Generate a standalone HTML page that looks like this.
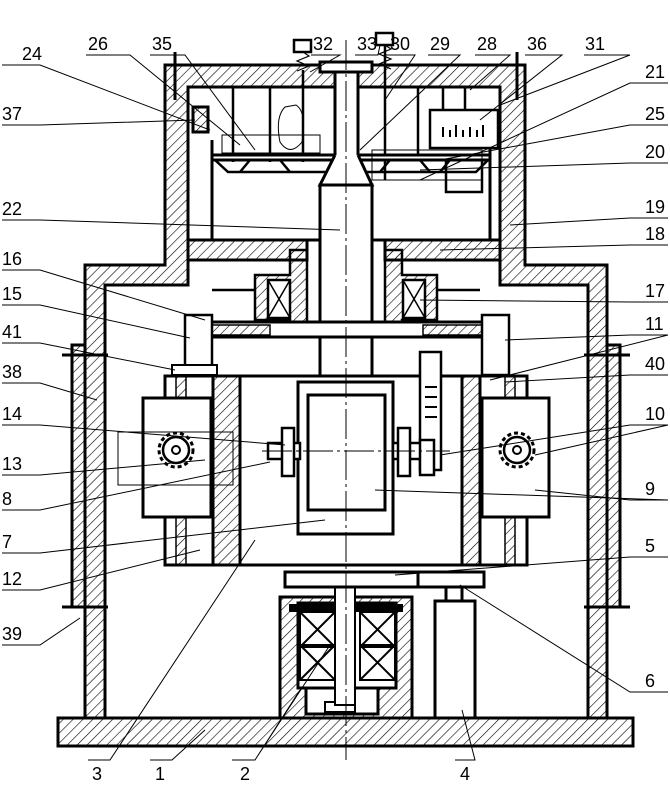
<!DOCTYPE html>
<html><head><meta charset="utf-8"><style>
html,body{margin:0;padding:0;background:#fff;}
svg{display:block;}
text{font-family:"Liberation Sans",sans-serif;font-size:18px;fill:#000;}
</style></head><body>
<svg width="670" height="787" viewBox="0 0 670 787" xmlns="http://www.w3.org/2000/svg">
<defs>
<pattern id="h" width="7" height="7" patternUnits="userSpaceOnUse" patternTransform="rotate(45)">
<line x1="0" y1="0" x2="0" y2="7" stroke="#000" stroke-width="1.2"/>
</pattern>
</defs>
<g stroke="#000" stroke-width="3" fill="none">
<rect x="58" y="718" width="575" height="28" fill="url(#h)"/>
<path d="M280,718 V597 H412 V718" fill="url(#h)"/>
<rect x="298" y="603" width="98" height="85" fill="#fff"/>
<rect x="306" y="688" width="72" height="26" fill="#fff"/>
<g stroke-width="2">
<rect x="300" y="612" width="35" height="35"/><path d="M300,612 L335,647 M335,612 L300,647"/>
<rect x="360" y="612" width="35" height="35"/><path d="M360,612 L395,647 M395,612 L360,647"/>
<rect x="300" y="645" width="35" height="35"/><path d="M300,680 L335,645 M335,680 L300,645"/>
<rect x="360" y="645" width="35" height="35"/><path d="M360,680 L395,645 M395,680 L360,645"/>
<rect x="290" y="605" width="112" height="6" fill="#000"/>
<rect x="325" y="702" width="30" height="10" fill="#fff"/>
</g>
<rect x="335" y="587" width="20" height="118" fill="#fff" stroke-width="2"/>
<rect x="285" y="572" width="199" height="15" fill="#fff"/>
<line x1="418" y1="572" x2="418" y2="587"/>
<rect x="435" y="601" width="40" height="117" fill="#fff"/>
<rect x="446" y="587" width="16" height="14" fill="#fff"/>
<path d="M85,718 V265 H165 V65 H525 V265 H607 V718 H588 V285 H500 V87 H188 V285 H105 V718 Z" fill="url(#h)"/>
<rect x="72" y="345" width="13" height="262" fill="url(#h)"/>
<rect x="607" y="345" width="13" height="262" fill="url(#h)"/>
<line x1="62" y1="355" x2="108" y2="355"/><line x1="62" y1="607" x2="108" y2="607"/>
<line x1="584" y1="355" x2="630" y2="355"/><line x1="584" y1="607" x2="630" y2="607"/>
<path d="M212,140 V240 H320 M372,240 H490 V140" />
<rect x="188" y="240" width="119" height="20" fill="url(#h)"/>
<rect x="385" y="240" width="115" height="20" fill="url(#h)"/>
<rect x="193" y="107" width="15" height="25" fill="url(#h)"/>
<line x1="175" y1="52" x2="175" y2="100"/><line x1="517" y1="52" x2="517" y2="100"/>
<g stroke-width="2.5">
<line x1="233" y1="87" x2="233" y2="162"/><line x1="270" y1="87" x2="270" y2="162"/>
<line x1="303" y1="70" x2="303" y2="162"/><line x1="385" y1="45" x2="385" y2="180"/>
<line x1="418" y1="87" x2="418" y2="160"/><line x1="443" y1="87" x2="443" y2="110"/><line x1="465" y1="87" x2="465" y2="110"/>
</g>
<rect x="294" y="40" width="17" height="12" stroke-width="2.5"/>
<rect x="376" y="33" width="17" height="12" stroke-width="2.5"/>
<path d="M303,52 l6,4 -12,5 12,5 -12,5" stroke-width="1.2"/>
<path d="M385,45 l6,4 -12,5 12,5 -12,5 12,5" stroke-width="1.2"/>
<path d="M212,155 H490 V160 H212 Z" fill="#fff"/>
<path d="M215,160 L228,172 H476 L488,160" stroke-width="2.5"/>
<path d="M250,160 l-10,12 M280,160 l10,12 M390,160 l-10,12 M420,160 l10,12 M450,160 l-10,12" stroke-width="2.5"/>
<rect x="430" y="110" width="68" height="38" stroke-width="2.5" fill="#fff"/>
<path d="M443,137 v-10 M450,137 v-7 M456,137 v-12 M463,137 v-7 M470,137 v-10 M477,137 v-7 M483,137 v-12" stroke-width="2"/>
<rect x="446" y="160" width="36" height="32" stroke-width="2.5"/>
<rect x="222" y="135" width="98" height="18" stroke-width="1"/>
<rect x="372" y="150" width="110" height="30" stroke-width="1"/>
<path d="M285,107 q-10,10 -5,35 q10,15 22,0 q5,-30 -6,-37 z" stroke-width="1"/>
<rect x="335" y="72" width="23" height="85" fill="#fff"/>
<rect x="320" y="62" width="52" height="10" fill="#fff"/>
<path d="M335,155 L320,185 H372 L358,155" fill="#fff"/>
<rect x="320" y="185" width="52" height="190" fill="#fff"/>
<path d="M212,290 H255 V275 H290 V250 H307 V335 H290 V320 H255 V290" fill="url(#h)" stroke-width="2.5"/>
<path d="M480,290 H437 V275 H402 V250 H385 V335 H402 V320 H437 V290" fill="url(#h)" stroke-width="2.5"/>
<rect x="268" y="280" width="22" height="38" fill="#fff" stroke-width="2.5"/><path d="M268,280 L290,318 M290,280 L268,318" stroke-width="1.5"/>
<rect x="403" y="280" width="22" height="38" fill="#fff" stroke-width="2.5"/><path d="M403,280 L425,318 M425,280 L403,318" stroke-width="1.5"/>
<rect x="191" y="322" width="309" height="15" fill="#fff"/>
<rect x="194" y="325" width="76" height="10" fill="url(#h)" stroke-width="1.5"/>
<rect x="423" y="325" width="74" height="10" fill="url(#h)" stroke-width="1.5"/>
<rect x="185" y="315" width="27" height="60" fill="#fff" stroke-width="2.5"/>
<rect x="482" y="315" width="27" height="60" fill="#fff" stroke-width="2.5"/>
<rect x="172" y="365" width="45" height="10" fill="#fff" stroke-width="2"/>
<rect x="165" y="376" width="362" height="189" fill="#fff"/>
<rect x="320" y="337" width="52" height="39" fill="#fff"/>
<rect x="213" y="376" width="27" height="189" fill="url(#h)"/>
<rect x="462" y="376" width="18" height="189" fill="url(#h)"/>
<rect x="176" y="376" width="10" height="189" fill="url(#h)" stroke-width="1.5"/>
<rect x="505" y="376" width="10" height="189" fill="url(#h)" stroke-width="1.5"/>
<rect x="143" y="398" width="68" height="119" fill="#fff"/>
<rect x="482" y="398" width="67" height="119" fill="#fff"/>
<rect x="118" y="432" width="115" height="53" stroke-width="1"/>
<circle cx="176" cy="450" r="17" stroke-width="3" stroke-dasharray="4 3"/>
<circle cx="176" cy="450" r="13" fill="#fff" stroke-width="2.5"/>
<circle cx="176" cy="450" r="4" stroke-width="2"/>
<circle cx="517" cy="450" r="17" stroke-width="3" stroke-dasharray="4 3"/>
<circle cx="517" cy="450" r="13" fill="#fff" stroke-width="2.5"/>
<circle cx="517" cy="450" r="4" stroke-width="2"/>
<rect x="420" y="352" width="21" height="118" fill="#fff" stroke-width="2.5"/>
<path d="M425,387 h12 M425,397 h12 M425,407 h12 M425,417 h12" stroke-width="2"/>
<rect x="298" y="382" width="95" height="152" fill="#fff"/>
<rect x="308" y="395" width="77" height="115"/>
<rect x="268" y="443" width="32" height="16" fill="#fff" stroke-width="2.5"/>
<rect x="282" y="428" width="12" height="48" fill="#fff" stroke-width="2.5"/>
<rect x="393" y="443" width="40" height="16" fill="#fff" stroke-width="2.5"/>
<rect x="398" y="428" width="12" height="48" fill="#fff" stroke-width="2.5"/>
<rect x="420" y="440" width="14" height="35" fill="#fff" stroke-width="2.5"/>
</g>
<line x1="346" y1="40" x2="346" y2="760" stroke="#000" stroke-width="1" stroke-dasharray="30 4 3 4"/>
<line x1="262" y1="451" x2="450" y2="451" stroke="#000" stroke-width="1" stroke-dasharray="30 4 3 4"/>
<g stroke="#000" stroke-width="1" fill="none">
<path d="M2,65 H40 L210,130"/><path d="M86,55 H130 L240,145"/><path d="M150,55 H185 L255,150"/>
<path d="M311,55 H340 L310,72"/><path d="M355,55 H378 L380,45"/><path d="M386,55 H415 L385,100"/>
<path d="M428,55 H460 L360,150"/><path d="M475,55 H510 L470,90"/><path d="M525,55 H562 L480,120"/>
<path d="M584,55 H630 L500,105"/>
<path d="M668,83 H630 L420,180"/><path d="M668,125 H630 L440,160"/><path d="M668,163 H630 L420,170"/>
<path d="M668,218 H630 L510,225"/><path d="M668,245 H630 L440,250"/><path d="M668,302 H630 L420,300"/>
<path d="M668,335 H630 L505,340"/><path d="M668,335 L490,380"/><path d="M668,375 H630 L505,382"/>
<path d="M668,425 H630 L440,455"/><path d="M668,425 L535,455"/>
<path d="M668,500 H630 L535,490"/><path d="M668,500 L375,490"/>
<path d="M668,557 H630 L395,575"/><path d="M668,692 H630 L460,585"/>
<path d="M2,125 H40 L195,120"/><path d="M2,220 H40 L340,230"/><path d="M2,270 H40 L205,320"/>
<path d="M2,305 H40 L190,338"/><path d="M2,343 H40 L175,370"/><path d="M2,383 H40 L97,400"/>
<path d="M2,425 H40 L285,445"/><path d="M2,475 H40 L205,460"/><path d="M2,510 H40 L270,462"/>
<path d="M2,553 H40 L325,520"/><path d="M2,590 H40 L200,550"/><path d="M2,645 H40 L80,618"/>
<path d="M88,760 H110 L255,540"/><path d="M150,760 H172 L205,730"/><path d="M232,760 H255 L300,690 M255,760 L330,645"/>
<path d="M455,760 H475 L462,710"/>
</g>
<g>
<text x="22" y="60">24</text><text x="88" y="50">26</text><text x="152" y="50">35</text>
<text x="313" y="50">32</text><text x="357" y="50">33</text><text x="390" y="50">30</text>
<text x="430" y="50">29</text><text x="477" y="50">28</text><text x="527" y="50">36</text>
<text x="585" y="50">31</text>
<text x="645" y="78">21</text><text x="645" y="120">25</text><text x="645" y="158">20</text>
<text x="645" y="213">19</text><text x="645" y="240">18</text><text x="645" y="297">17</text>
<text x="645" y="330">11</text><text x="645" y="370">40</text><text x="645" y="420">10</text>
<text x="645" y="495">9</text><text x="645" y="552">5</text><text x="645" y="687">6</text>
<text x="2" y="120">37</text><text x="2" y="215">22</text><text x="2" y="265">16</text>
<text x="2" y="300">15</text><text x="2" y="338">41</text><text x="2" y="378">38</text>
<text x="2" y="420">14</text><text x="2" y="470">13</text><text x="2" y="505">8</text>
<text x="2" y="548">7</text><text x="2" y="585">12</text><text x="2" y="640">39</text>
<text x="92" y="780">3</text><text x="155" y="780">1</text><text x="240" y="780">2</text>
<text x="460" y="780">4</text>
</g>
</svg>
</body></html>
